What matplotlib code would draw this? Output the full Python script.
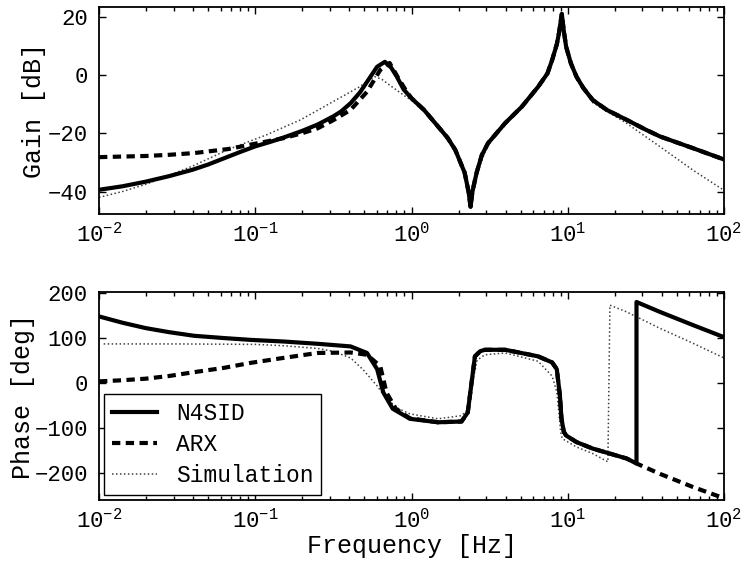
import numpy as np
import matplotlib
matplotlib.use('Agg')
import matplotlib.pyplot as plt
from matplotlib.ticker import LogLocator

plt.rcParams['font.family'] = ['Liberation Mono', 'DejaVu Sans Mono']
plt.rcParams['mathtext.fontset'] = 'custom'
plt.rcParams['mathtext.rm'] = 'Liberation Mono'
plt.rcParams['mathtext.it'] = 'Liberation Mono'
plt.rcParams['mathtext.bf'] = 'Liberation Mono'

# gain curves, log10 of frequency [Hz] and gain [dB]
n4sid_gain_logf = [-2.0, -1.85, -1.7, -1.55, -1.4, -1.3, -1.2, -1.1, -1.0, -0.9, -0.82,
                   -0.7, -0.6, -0.5, -0.45, -0.39, -0.33, -0.285, -0.22, -0.17, -0.13,
                   -0.094, -0.05, 0.0, 0.08, 0.17, 0.23, 0.28, 0.34, 0.365, 0.378, 0.39,
                   0.417, 0.45, 0.49, 0.6, 0.706, 0.81, 0.87, 0.9, 0.93, 0.944, 0.962,
                   0.975, 0.99, 1.02, 1.056, 1.1, 1.16, 1.25, 1.377, 1.5, 1.59, 1.8, 2.0]
n4sid_gain_db = [-39.4, -38.2, -36.6, -34.7, -32.5, -30.7, -28.6, -26.5, -24.5, -22.9, -21.5,
                 -19.2, -17.0, -14.2, -12.5, -9.7, -6.0, -2.4, 2.8, 4.5, 2.5,
                 -0.6, -5.0, -8.0, -12.0, -17.7, -21.5, -25.7, -33.5, -40.0, -45.2, -40.0,
                 -33.5, -27.5, -23.4, -16.5, -10.9, -4.1, 0.5, 5.1, 10.5, 14.4, 20.9,
                 15.0, 9.6, 4.0, -0.6, -4.5, -8.6, -12.0, -15.4, -18.8, -21.1, -25.1, -29.0]

arx_gain_logf = [-2.0, -1.85, -1.7, -1.55, -1.39, -1.17, -1.02, -0.82, -0.7, -0.6, -0.5,
                 -0.39, -0.285, -0.2, -0.14, -0.08, -0.03, 0.0, 0.08, 0.17, 0.23, 0.28,
                 0.34, 0.365, 0.378, 0.39, 0.417, 0.45, 0.49, 0.6, 0.706, 0.81, 0.87,
                 0.9, 0.93, 0.944, 0.962, 0.975, 0.99, 1.02, 1.056, 1.1, 1.16, 1.25,
                 1.377, 1.5, 1.59, 1.8, 2.0]
arx_gain_db = [-28.2, -28.0, -27.8, -27.4, -26.8, -25.4, -23.8, -21.7, -20.0, -18.3, -15.5,
               -12.0, -5.8, 1.7, 4.1, -1.5, -5.8, -8.0, -12.0, -17.7, -21.5, -25.7,
               -33.5, -40.0, -45.2, -40.0, -33.5, -27.5, -23.4, -16.5, -10.9, -4.1, 0.5,
               5.1, 10.5, 14.4, 20.9, 15.0, 9.6, 4.0, -0.6, -4.5, -8.6, -12.0,
               -15.4, -18.8, -21.1, -25.1, -29.0]

sim_gain_logf = [-2.0, -1.85, -1.7, -1.55, -1.39, -1.17, -0.93, -0.71, -0.5, -0.33, -0.28,
                 -0.234, -0.19, -0.14, -0.03, 0.0, 0.08, 0.17, 0.28, 0.34, 0.37, 0.383,
                 0.395, 0.42, 0.49, 0.6, 0.706, 0.81, 0.9, 0.944, 0.962, 0.98, 1.0,
                 1.056, 1.16, 1.377, 1.59, 1.8, 2.0]
sim_gain_db = [-42.0, -40.0, -37.5, -34.5, -31.0, -25.5, -20.6, -15.4, -9.1, -4.0, -2.0,
               -0.6, -1.5, -3.5, -7.7, -8.7, -12.5, -18.0, -26.0, -33.5, -40.0, -44.0,
               -40.0, -33.5, -23.8, -17.0, -11.3, -4.5, 4.5, 13.5, 19.5, 12.0, 7.0,
               -1.5, -9.5, -16.6, -24.6, -32.6, -39.6]

# phase curves [deg]
n4sid_phase_logf = [-2.0, -1.85, -1.7, -1.55, -1.39, -1.2, -1.03, -0.82, -0.6, -0.39,
                    -0.285, -0.22, -0.18, -0.12, -0.01, 0.17, 0.32, 0.36, 0.387, 0.406,
                    0.44, 0.47, 0.6, 0.81, 0.9, 0.93, 0.95, 0.96, 0.975, 0.99, 1.056,
                    1.16, 1.377, 1.44, 1.44, 1.59, 1.8, 2.0]
n4sid_phase_deg = [147, 133, 121, 112, 104, 99, 95, 91.4, 86.3, 80.5,
                   66, 30, -22, -57.7, -80, -87.7, -86, -66, 7, 58.5,
                   70, 73, 73, 58.5, 45, 30, -29, -80, -109, -117, -131.6,
                   -146, -168, -179, 179, 157, 128, 101]

arx_phase_logf = [-2.0, -1.85, -1.7, -1.55, -1.39, -1.2, -1.03, -0.82, -0.7, -0.6,
                  -0.39, -0.285, -0.2, -0.16, -0.1, -0.01, 0.17, 0.32, 0.36, 0.387,
                  0.406, 0.44, 0.47, 0.6, 0.81, 0.9, 0.93, 0.95, 0.96, 0.975, 0.99,
                  1.056, 1.16, 1.377, 1.44, 1.59, 1.8, 2.0]
arx_phase_deg = [3, 5.5, 9, 15, 23.5, 33, 44, 55, 61, 66,
                 67, 62, 36.6, -22, -58, -79, -87.7, -86, -66, 7,
                 58.5, 70, 73, 73, 58.5, 45, 30, -29, -80, -109, -117,
                 -131.6, -146, -168, -179, -202, -231, -256]

sim_phase_logf = [-1.97, -1.5, -1.0, -0.82, -0.6, -0.5, -0.39, -0.31, -0.22, -0.16,
                  -0.08, -0.01, 0.17, 0.32, 0.36, 0.39, 0.42, 0.47, 0.6, 0.81, 0.9,
                  0.93, 0.955, 0.965, 1.056, 1.16, 1.257, 1.27, 1.377, 1.59, 1.8, 2.0]
sim_phase_deg = [86, 86, 85, 82, 76, 69.5, 55, 29, -7, -36,
                 -58, -69, -80, -73, -60, 0, 50, 62, 66, 47.6, 14.7,
                 -20, -110, -124, -142.5, -157, -175.4, 172, 157, 120.6, 87.7, 55]

x_ticks = [0.01, 0.1, 1, 10, 100]
x_ticklabels = [r'$10^{-2}$', r'$10^{-1}$', r'$10^{0}$', r'$10^{1}$', r'$10^{2}$']
gain_ticks = [-40, -20, 0, 20]
phase_ticks = [-200, -100, 0, 100, 200]


def hz(logf):
    return 10.0 ** np.array(logf)


fig = plt.figure(figsize=(7.45, 5.74), dpi=100)
ax1 = fig.add_axes([0.1329, 0.6272, 0.8389, 0.3601])
ax2 = fig.add_axes([0.1329, 0.1289, 0.8389, 0.3619])

solid = dict(color='black', lw=3, solid_joinstyle='round')
dashed = dict(color='black', lw=3, linestyle=(0, (2.0, 1.3)))
dotted = dict(color='0.25', lw=1.1, linestyle=(0, (1, 1.6)))

ax1.plot(hz(sim_gain_logf), sim_gain_db, **dotted)
ax1.plot(hz(arx_gain_logf), arx_gain_db, **dashed)
ax1.plot(hz(n4sid_gain_logf), n4sid_gain_db, **solid)

ax2.plot(hz(sim_phase_logf), sim_phase_deg, label='Simulation', **dotted)
ax2.plot(hz(arx_phase_logf), arx_phase_deg, label='ARX', **dashed)
ax2.plot(hz(n4sid_phase_logf), n4sid_phase_deg, label='N4SID', **solid)

for ax, yt in [(ax1, gain_ticks), (ax2, phase_ticks)]:
    ax.set_xscale('log')
    ax.set_xlim(0.01, 100)
    ax.set_xticks(x_ticks)
    ax.set_xticklabels(x_ticklabels)
    ax.xaxis.set_minor_locator(LogLocator(base=10, subs=np.arange(2, 10), numticks=20))
    ax.xaxis.set_minor_formatter(plt.NullFormatter())
    ax.set_yticks(yt)
    ax.tick_params(which='both', direction='in', top=True, right=True, width=1)
    ax.tick_params(which='major', length=5, labelsize=16)
    ax.tick_params(axis='x', which='major', pad=6)
    ax.tick_params(axis='y', which='major', pad=8)
    ax.tick_params(which='minor', length=3)
    for s in ax.spines.values():
        s.set_linewidth(1.3)

ax1.set_ylim(-47.7, 23.2)
ax2.set_ylim(-260, 200.5)

ax1.set_ylabel('Gain [dB]', fontsize=18, labelpad=1.5)
ax2.set_ylabel('Phase [deg]', fontsize=18, labelpad=-0.5)
ax2.set_xlabel('Frequency [Hz]', fontsize=18, labelpad=1)

h, l = ax2.get_legend_handles_labels()
leg = ax2.legend(h[::-1], l[::-1], loc='lower left', fontsize=16.5, fancybox=False,
                 framealpha=1, edgecolor='black', borderaxespad=0.2, handlelength=2.0,
                 handletextpad=0.8, labelspacing=0.35, borderpad=0.35)
leg.get_frame().set_linewidth(1)

fig.savefig('out.png', dpi=100)
